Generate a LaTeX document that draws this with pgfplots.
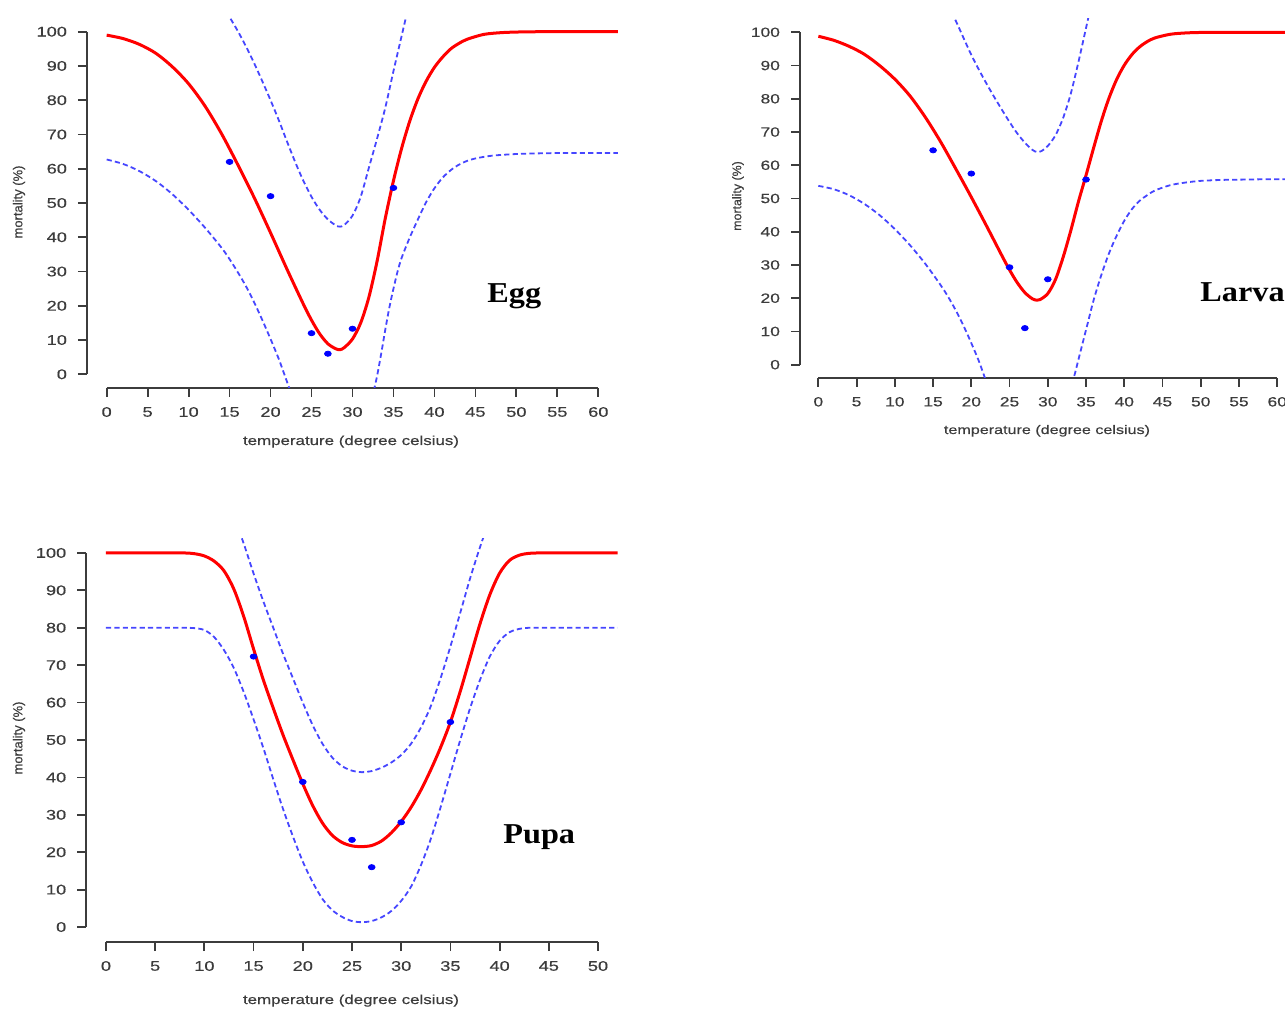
\documentclass[border=0pt]{standalone}
\usepackage{fontspec}
\setmainfont{Liberation Sans}
\newfontfamily\rfont[FakeStretch=1.3,FakeBold=0.4]{Liberation Sans}
\newfontfamily\vfont[FakeBold=0.4]{Liberation Sans}
\newfontfamily\labfont[FakeStretch=1.12]{Liberation Serif}
\usepackage{pgfplots}
\pgfplotsset{compat=1.18}
\definecolor{axgray}{RGB}{60,60,60}
\definecolor{cired}{RGB}{255,0,0}
\definecolor{ciblue}{RGB}{70,70,255}
\definecolor{ptblue}{RGB}{0,0,255}
\pgfplotsset{
 rstyle/.style={
   scale only axis, clip mode=individual,
   axis x line*=bottom, axis y line*=left,
   axis line style={draw=none},
   tick align=outside,
   major tick length=4.5pt,
   tick style={axgray, line width=0.9pt},
   tick label style={text=axgray},
   xticklabel style={yshift=-1.5pt},
   yticklabel style={xshift=-2pt},
   /pgf/number format/assume math mode=true,
   ymin=-4, ymax=104,
   ytick={0,10,...,100},
   anchor=south west,
 },
 fit/.style={cired, line width=1.5pt, smooth, no markers},
 ci/.style={ciblue, line width=0.9pt, dash pattern=on 2.6pt off 1.6pt, smooth, no markers},
 obs/.style={only marks, mark=*, mark size=1.3pt, ptblue, mark options={xscale=1.3, draw=ptblue, fill=ptblue}},
}
\begin{document}
\begin{tikzpicture}
\path[use as bounding box] (0pt,0pt) rectangle (642.5pt,504pt);
\clip (0pt,0pt) rectangle (642.5pt,504pt);
% ---------------- Egg ----------------
\begin{axis}[rstyle, at={(43.5pt,310pt)}, width=265.5pt, height=185pt,
  xmin=-2.4, xmax=62.4, xtick={0,5,...,60},
  tick label style={font=\rfont\fontsize{7}{8}\selectfont}]
\draw[axgray, line width=0.9pt] (axis cs:0,-4) -- (axis cs:60,-4);
\draw[axgray, line width=0.9pt] (axis cs:-2.4,0) -- (axis cs:-2.4,100);
\addplot[fit] coordinates {(0,99) (2,98) (4,96.3) (6,93.7) (8,89.8) (10,84.8) (12,78.3) (14,70.3) (16,61.2) (18,51.6) (20,41.3) (22,30.7) (24,20.5) (25,15.8) (26,11.8) (27,8.9) (28,7.4) (28.5,7.2) (29,7.8) (30,10.3) (31,15) (32,22.5) (33,33) (34,45.5) (35,56.5) (36,66) (37,74) (38,80.5) (39,85.6) (40,89.6) (41,92.6) (42,95) (43,96.6) (44,97.8) (46,99.2) (48,99.7) (50,99.9) (53,100) (56,100) (59,100) (62.4,100)};
\addplot[ci] coordinates {(14.7,106) (15,104.3) (16,100.2) (17,95.7) (18,90.8) (19,85.5) (20,80) (21,74.2) (22,68) (23,62) (24,56.5) (25,51.8) (26,48) (27,45.2) (28,43.4) (28.5,43.1) (29,43.6) (30,46.3) (31,51.8) (32,60.3) (33,68.8) (34,77.8) (35,88.5) (36,98.8) (36.7,106)};
\addplot[ci] coordinates {(0,62.7) (2,61.4) (4,59.3) (6,56.4) (8,52.6) (10,48) (12,42.8) (14,37) (15,33.6) (16,29.8) (17,25.7) (18,21) (19,15.8) (20,10.3) (21,4.5) (21.8,-0.8) (22.4,-4.8)};
\addplot[ci] coordinates {(32.6,-4.8) (33,-0.5) (33.5,6) (34,13) (34.5,19.5) (35,25) (35.5,30) (36,34) (37,40) (38,45.3) (39,50.3) (40,54.3) (41,57.4) (42,59.6) (43,61.2) (44,62.3) (45,63) (47,63.8) (50,64.3) (53,64.5) (56,64.6) (59,64.6) (62.4,64.6)};
\addplot[obs] coordinates {(15,62) (20,52) (25,12) (27,6) (30,13.3) (35,54.4)};
\end{axis}
% ---------------- Larva ----------------
\begin{axis}[rstyle, at={(400pt,315pt)}, width=247.8pt, height=179.5pt,
  xmin=-2.4, xmax=62.4, xtick={0,5,...,60},
  tick label style={font=\rfont\fontsize{6.7}{8}\selectfont}]
\draw[axgray, line width=0.9pt] (axis cs:0,-4) -- (axis cs:60,-4);
\draw[axgray, line width=0.9pt] (axis cs:-2.4,0) -- (axis cs:-2.4,100);
\addplot[fit] coordinates {(0,98.8) (2,97.6) (4,95.8) (6,93.4) (8,90) (10,85.9) (12,80.8) (14,74.4) (16,67) (18,58.8) (20,50.4) (22,41.7) (24,32.8) (25,28.5) (26,24.7) (27,21.7) (28,19.8) (28.6,19.4) (29,19.6) (30,21.4) (31,25.6) (32,32.3) (33,40.3) (34,49) (35,57) (36,65.3) (37,73.3) (38,80.2) (39,85.8) (40,90.1) (41,93.3) (42,95.6) (43,97.2) (44,98.3) (46,99.4) (48,99.8) (50,99.95) (53,100) (56,100) (59,100) (62.4,100)};
\addplot[ci] coordinates {(17.4,106) (18,103.3) (19,98.2) (20,93.2) (21,88.7) (22,84.5) (23,80.5) (24,76.7) (25,73) (26,69.6) (27,66.8) (28,64.6) (28.6,64) (29.2,64.3) (30,65.8) (31,69) (32,74.2) (33,81.5) (34,91) (35,101.3) (35.5,106.5)};
\addplot[ci] coordinates {(0,53.8) (2,52.8) (4,51) (6,48.4) (8,45) (10,40.8) (12,35.9) (14,30.3) (16,23.9) (17,20.3) (18,16.2) (19,11.6) (20,6.5) (21,1) (21.9,-4.8)};
\addplot[ci] coordinates {(32.9,-5.5) (33.4,-3.8) (34,1.5) (35,10.5) (36,19.5) (37,27) (38,33.5) (39,38.8) (40,43.3) (41,46.8) (42,49.3) (43,51) (44,52.4) (46,54) (48,54.8) (50,55.3) (53,55.6) (56,55.7) (59,55.8) (62.4,55.8)};
\addplot[obs] coordinates {(15,64.5) (20,57.5) (25,29.3) (27,11) (30,25.7) (35,55.7)};
\end{axis}
% ---------------- Pupa ----------------
\begin{axis}[rstyle, at={(43.15pt,33pt)}, width=265.7pt, height=202pt,
  xmin=-2, xmax=52, xtick={0,5,...,50},
  tick label style={font=\rfont\fontsize{7}{8}\selectfont}]
\draw[axgray, line width=0.9pt] (axis cs:0,-4) -- (axis cs:50,-4);
\draw[axgray, line width=0.9pt] (axis cs:-2,0) -- (axis cs:-2,100);
\addplot[fit] coordinates {(0,100) (3,100) (6,100) (8,100) (9,99.8) (10,99.2) (11,97.8) (12,95.2) (13,90.3) (14,83) (15,74.3) (16,66) (17,58.5) (18,51.3) (19,44.7) (20,38.3) (21,32.5) (22,27.8) (23,24.5) (24,22.6) (25,21.7) (26,21.5) (27,21.8) (28,23) (29,25.2) (30,28.2) (31,32) (32,36.6) (33,42) (34,48) (35,54.8) (36,63) (37,72) (38,81) (39,88.8) (40,94.6) (41,98) (42,99.4) (43,99.9) (44,100) (46,100) (49,100) (52,100)};
\addplot[ci] coordinates {(13.5,106) (14,102.5) (15,94.5) (16,87) (17,80) (18,73) (19,66.5) (20,60) (21,54) (22,49) (23,45.3) (24,43) (25,41.8) (26,41.4) (27,41.7) (28,42.6) (29,44) (30,46) (31,49) (32,53.3) (33,59) (34,66.5) (35,75) (36,84) (37,93.2) (38,101.5) (38.6,106)};
\addplot[ci] coordinates {(0,80) (3,80) (6,80) (8,80) (9,79.9) (10,79.4) (11,77.5) (12,74) (13,69.2) (14,62.8) (15,55.5) (16,47.8) (17,39.5) (18,31.5) (19,24.2) (20,17.5) (21,12) (22,7.5) (23,4.5) (24,2.7) (25,1.6) (26,1.3) (27,1.6) (28,2.6) (29,4.3) (30,7) (31,10.8) (32,16.5) (33,23.5) (34,32) (35,41) (36,50) (37,58.5) (38,66) (39,72.3) (40,76.5) (41,78.8) (42,79.7) (43,80) (44,80) (46,80) (49,80) (52,80)};
\addplot[obs] coordinates {(15,72.3) (20,38.8) (25,23.3) (27,16) (30,28) (35,54.8)};
\end{axis}
% ---------------- labels ----------------
\node[anchor=base, text=axgray, font=\rfont\fontsize{6.5}{8}\selectfont] at (175.5pt,281.5pt) {temperature (degree celsius)};
\node[rotate=90, anchor=center, text=axgray, font=\vfont\fontsize{6.5}{8}\selectfont] at (9.5pt,403pt) {mortality (\%)};
\node[anchor=base, text=axgray, font=\rfont\fontsize{6.2}{8}\selectfont] at (523.5pt,287pt) {temperature (degree celsius)};
\node[rotate=90, anchor=center, text=axgray, font=\vfont\fontsize{6.2}{8}\selectfont] at (369pt,406pt) {mortality (\%)};
\node[anchor=base, text=axgray, font=\rfont\fontsize{6.5}{8}\selectfont] at (175.5pt,2pt) {temperature (degree celsius)};
\node[rotate=90, anchor=center, text=axgray, font=\vfont\fontsize{6.5}{8}\selectfont] at (9.5pt,135pt) {mortality (\%)};
\node[anchor=base west, inner sep=0pt, font=\labfont\bfseries\fontsize{14.4}{16}\selectfont] at (243.5pt,352.5pt) {Egg};
\node[anchor=base west, inner sep=0pt, font=\labfont\bfseries\fontsize{14.4}{16}\selectfont] at (600pt,353pt) {Larva};
\node[anchor=base west, inner sep=0pt, font=\labfont\bfseries\fontsize{14.4}{16}\selectfont] at (251.5pt,82.5pt) {Pupa};
\end{tikzpicture}
\end{document}
